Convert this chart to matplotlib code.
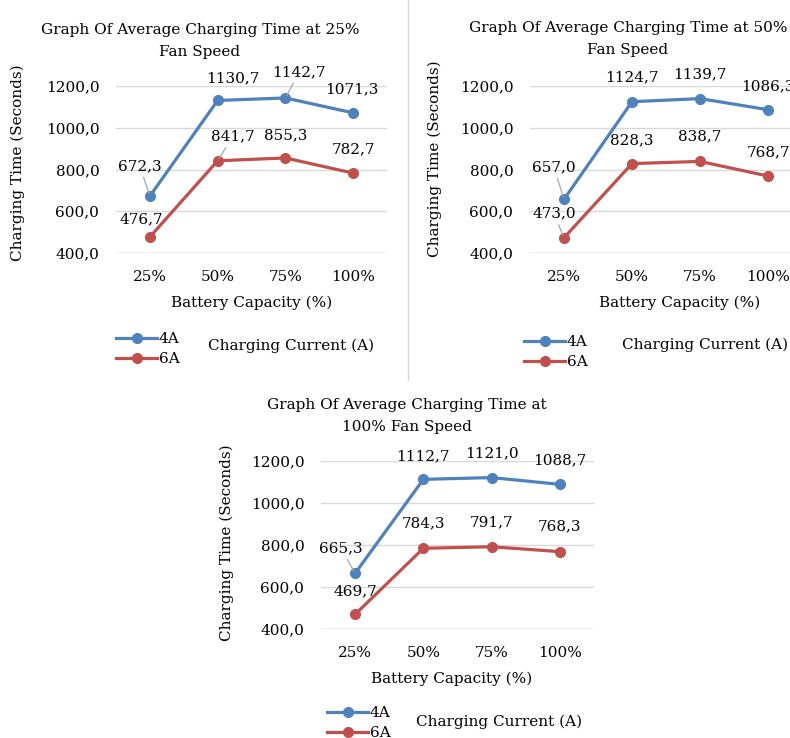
import matplotlib.pyplot as plt
from matplotlib.lines import Line2D

plt.rcParams['font.family'] = ['DejaVu Serif']

CAPACITY = ["25%", "50%", "75%", "100%"]
SERIES = ["4A", "6A"]
COLORS = ["#4F81BD", "#C0504D"]

TITLES = ["Graph Of Average Charging Time at 25%\nFan Speed",
          "Graph Of Average Charging Time at 50%\nFan Speed",
          "Graph Of Average Charging Time at\n100% Fan Speed"]

FAN25_4A = [672.3, 1130.7, 1142.7, 1071.3]
FAN25_6A = [476.7, 841.7, 855.3, 782.7]
FAN50_4A = [657.0, 1124.7, 1139.7, 1086.3]
FAN50_6A = [473.0, 828.3, 838.7, 768.7]
FAN100_4A = [665.3, 1112.7, 1121.0, 1088.7]
FAN100_6A = [469.7, 784.3, 791.7, 768.3]

W, H = 790, 738


def fx(x):
    return x / W


def fy(y):
    return 1 - y / H


# per panel layout (pixels): axes box, title centre, ylabel x/centre, xlabel centre, legend, legend title
PANELS = [
    dict(data=(FAN25_4A, FAN25_6A), box=(116, 86, 387, 253), title=(200, 41),
         ylab=(18, 163), xlab=(252, 303), leg=(116, 332), legtitle=(291, 346),
         offs=[[(-10, 30), (15, 22), (14, 26), (-1, 24)],
               [(-9, 18), (15, 24), (0, 23), (0, 24)]],
         leaders=[(0, 0), (0, 2), (1, 1)]),
    dict(data=(FAN50_4A, FAN50_6A), box=(530, 86, 802, 253), title=(628, 39),
         ylab=(435, 159), xlab=(680, 303), leg=(524, 335), legtitle=(705, 345),
         offs=[[(-10, 32), (0, 24), (0, 24), (0, 23)],
               [(-10, 24), (0, 23), (0, 25), (0, 24)]],
         leaders=[(0, 0), (1, 0)]),
    dict(data=(FAN100_4A, FAN100_6A), box=(321, 461, 594, 629), title=(407, 416),
         ylab=(227, 543), xlab=(452, 679), leg=(327, 706), legtitle=(499, 722),
         offs=[[(-14, 25), (0, 23), (0, 24), (0, 24)],
               [(0, 23), (0, 25), (0, 24), (0, 25)]],
         leaders=[(0, 0)]),
]

fig = plt.figure(figsize=(7.9, 7.38), dpi=100)

# divider between the two top charts
fig.add_artist(Line2D([fx(408), fx(408)], [fy(0), fy(380)], color="#D9D9D9", lw=1))

for i, p in enumerate(PANELS):
    x0, y0, x1, y1 = p["box"]
    ax = fig.add_axes([fx(x0), fy(y1), (x1 - x0) / W, (y1 - y0) / H])
    for s in range(2):
        vals = p["data"][s]
        ax.plot(CAPACITY, vals, color=COLORS[s], lw=2.3, marker="o", ms=7,
                label=SERIES[s], clip_on=False, zorder=3)
        for k, v in enumerate(vals):
            dx, dy = p["offs"][s][k]
            props = None
            if (s, k) in p["leaders"]:
                props = dict(arrowstyle="-", color="#A6A6A6", lw=0.9, shrinkA=1, shrinkB=2)
            ax.annotate(f"{v:.1f}".replace(".", ","), (k, v), xytext=(dx, dy),
                        textcoords="offset pixels", ha="center", va="center",
                        fontsize=11, annotation_clip=False, arrowprops=props)
    ax.set_xlim(-0.5, 3.5)
    ax.set_ylim(400, 1200)
    ax.set_yticks([400, 600, 800, 1000, 1200])
    ax.set_yticklabels([f"{t:.1f}".replace(".", ",") for t in [400, 600, 800, 1000, 1200]])
    ax.grid(axis="y", color="#D9D9D9", lw=1)
    ax.set_axisbelow(True)
    for sp in ax.spines.values():
        sp.set_visible(False)
    ax.axhline(400, color="#D9D9D9", lw=1)
    ax.tick_params(axis="y", length=0, pad=12, labelsize=11)
    ax.tick_params(axis="x", length=0, pad=12, labelsize=11)

    tx, ty = p["title"]
    fig.text(fx(tx), fy(ty), TITLES[i], ha="center", va="center", fontsize=11,
             linespacing=1.7)
    lx, ly = p["ylab"]
    fig.text(fx(lx), fy(ly), "Charging Time (Seconds)", rotation=90,
             ha="center", va="center", fontsize=11)
    bx, by = p["xlab"]
    fig.text(fx(bx), fy(by), "Battery Capacity (%)", ha="center", va="center", fontsize=11)
    gx, gy = p["leg"]
    ax.legend(loc="upper left", bbox_to_anchor=(fx(gx), fy(gy)),
              bbox_transform=fig.transFigure, frameon=False, fontsize=11,
              handlelength=2.7, handletextpad=0.1, labelspacing=0.4,
              borderpad=0, borderaxespad=0)
    cx, cy = p["legtitle"]
    fig.text(fx(cx), fy(cy), "Charging Current (A)", ha="center", va="center", fontsize=11)

fig.savefig("out.png", dpi=100)
